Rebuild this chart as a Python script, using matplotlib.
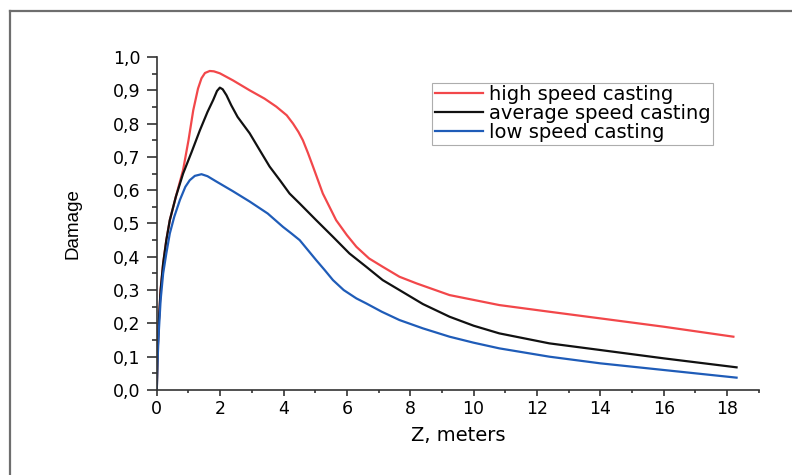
import matplotlib.pyplot as plt
from matplotlib.lines import Line2D
from matplotlib.ticker import MultipleLocator, FuncFormatter

plt.rcParams['font.family'] = ['DejaVu Sans']

# Z, meters and damage values
z_high = [0, 0.02, 0.06, 0.12, 0.2, 0.3, 0.41, 0.6, 0.83, 1.0, 1.15, 1.3, 1.41,
          1.52, 1.67, 1.8, 1.99, 2.4, 2.93, 3.4, 3.77, 4.1, 4.3, 4.47, 4.61,
          4.77, 4.93, 5.24, 5.66, 6.0, 6.3, 6.7, 7.13, 7.66, 8.2, 9.24, 10.81,
          12.39, 14.0, 16.0, 18.2]
d_high = [0, 0.10, 0.20, 0.30, 0.38, 0.45, 0.51, 0.58, 0.661, 0.75, 0.84, 0.905,
          0.936, 0.952, 0.958, 0.957, 0.951, 0.93, 0.90, 0.875, 0.851, 0.825,
          0.80, 0.775, 0.75, 0.712, 0.671, 0.59, 0.51, 0.465, 0.43, 0.395, 0.37,
          0.34, 0.32, 0.285, 0.255, 0.235, 0.215, 0.19, 0.16]

z_avg = [0, 0.02, 0.06, 0.12, 0.2, 0.3, 0.41, 0.6, 0.83, 1.1, 1.36, 1.6, 1.78,
         1.9, 1.99, 2.08, 2.2, 2.35, 2.55, 2.93, 3.25, 3.56, 3.9, 4.19, 4.51,
         5.03, 5.56, 6.08, 6.61, 7.13, 7.66, 8.4, 9.24, 10.0, 10.81, 12.39,
         14.0, 16.0, 18.3]
d_avg = [0, 0.10, 0.20, 0.30, 0.38, 0.45, 0.51, 0.58, 0.65, 0.715, 0.78, 0.835,
         0.871, 0.898, 0.908, 0.903, 0.885, 0.855, 0.82, 0.771, 0.72, 0.671,
         0.628, 0.59, 0.56, 0.51, 0.46, 0.41, 0.37, 0.33, 0.30, 0.258, 0.22,
         0.193, 0.17, 0.14, 0.12, 0.095, 0.068]

z_low = [0, 0.02, 0.06, 0.12, 0.2, 0.3, 0.41, 0.55, 0.73, 0.9, 1.04, 1.2, 1.41,
         1.6, 1.88, 2.4, 2.93, 3.5, 3.98, 4.25, 4.51, 4.77, 5.03, 5.3, 5.56,
         5.9, 6.3, 6.61, 7.1, 7.66, 8.4, 9.24, 10.0, 10.81, 12.39, 14.0, 16.0,
         18.3]
d_low = [0, 0.08, 0.17, 0.27, 0.35, 0.41, 0.47, 0.52, 0.571, 0.61, 0.63, 0.643,
         0.648, 0.642, 0.626, 0.597, 0.566, 0.53, 0.49, 0.47, 0.45, 0.42, 0.39,
         0.36, 0.33, 0.30, 0.275, 0.26, 0.235, 0.21, 0.185, 0.16, 0.142, 0.125,
         0.10, 0.08, 0.06, 0.037]

labels = ['high speed casting', 'average speed casting', 'low speed casting']
colors = ['#f2474a', '#111111', '#1f5cb8']

fig = plt.figure(figsize=(7.92, 4.75), dpi=100)
ax = fig.add_axes([0.198, 0.179, 0.76, 0.701])

ax.plot(z_high, d_high, color=colors[0], lw=1.6, label=labels[0])
ax.plot(z_avg, d_avg, color=colors[1], lw=1.6, label=labels[1])
ax.plot(z_low, d_low, color=colors[2], lw=1.6, label=labels[2])

ax.set_xlim(0, 19)
ax.set_ylim(0, 1.0)
ax.xaxis.set_major_locator(MultipleLocator(2))
ax.xaxis.set_minor_locator(MultipleLocator(1))
ax.yaxis.set_major_locator(MultipleLocator(0.1))
ax.yaxis.set_minor_locator(MultipleLocator(0.05))
ax.yaxis.set_major_formatter(FuncFormatter(lambda v, p: f'{v:.1f}'.replace('.', ',')))

for s in ['top', 'right']:
    ax.spines[s].set_visible(False)
for s in ['left', 'bottom']:
    ax.spines[s].set_color('#333333')
    ax.spines[s].set_linewidth(1.2)

ax.tick_params(axis='y', which='major', direction='out', length=7, width=1.2,
               color='#333333', labelsize=12.5, pad=5)
ax.tick_params(axis='y', which='minor', direction='out', length=3.6, width=1.2,
               color='#333333')
ax.tick_params(axis='x', which='major', direction='out', length=4.5, width=1.2,
               color='#333333', labelsize=12.5, pad=2.5)
ax.tick_params(axis='x', which='minor', direction='out', length=2.3, width=1.2,
               color='#333333')

ax.set_xlabel('Z, meters', fontsize=14, labelpad=6)
ax.set_ylabel('Damage', fontsize=13.5, labelpad=22,
              family=['Liberation Sans', 'DejaVu Sans'])

leg = ax.legend(loc='upper left', bbox_to_anchor=(0.458, 0.922),
                borderaxespad=0, fontsize=14, handlelength=2.5,
                handletextpad=0.3, labelspacing=0.0, frameon=True,
                fancybox=False, borderpad=0.12)
leg.get_frame().set_edgecolor('#999999')
leg.get_frame().set_linewidth(0.8)

# outer grey frame of the picture (top and left edges only)
fig.add_artist(Line2D([10 / 792, 1], [1 - 11 / 475, 1 - 11 / 475],
                      transform=fig.transFigure, color='#6e6e6e', lw=1.6))
fig.add_artist(Line2D([10 / 792, 10 / 792], [0, 1 - 11 / 475],
                      transform=fig.transFigure, color='#6e6e6e', lw=1.6))

fig.savefig('out.png', dpi=100)
